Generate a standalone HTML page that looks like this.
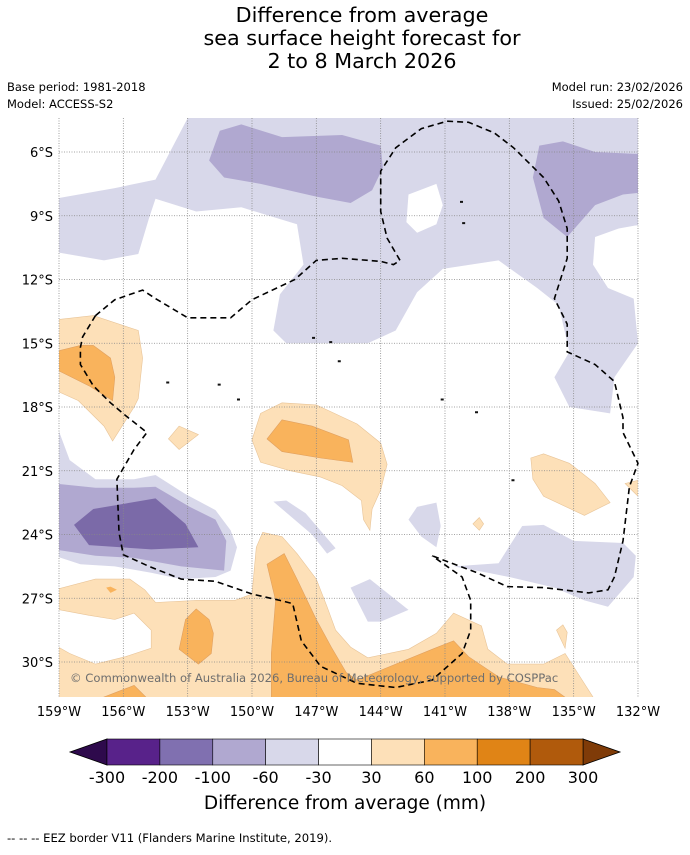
<!DOCTYPE html>
<html><head><meta charset="utf-8"><style>
body{margin:0;background:#fff;width:690px;height:850px;overflow:hidden;font-family:"Liberation Sans",sans-serif;}
svg text{font-family:"DejaVu Sans","Liberation Sans",sans-serif;}
</style></head><body>
<svg id="chart" width="690" height="850" xmlns="http://www.w3.org/2000/svg">
<text x="362" y="22" font-size="20.7" text-anchor="middle">Difference from average</text>
<text x="362" y="45" font-size="20.7" text-anchor="middle">sea surface height forecast for</text>
<text x="362" y="68" font-size="20.7" text-anchor="middle">2 to 8 March 2026</text>
<text x="7" y="91" font-size="11.5">Base period: 1981-2018</text>
<text x="7" y="108" font-size="11.5">Model: ACCESS-S2</text>
<text x="683" y="91" font-size="11.5" text-anchor="end">Model run: 23/02/2026</text>
<text x="683" y="108" font-size="11.5" text-anchor="end">Issued: 25/02/2026</text>
<defs><clipPath id="mapclip"><rect x="59" y="118" width="579" height="579"/></clipPath></defs>
<g id="map" clip-path="url(#mapclip)"><rect x="59" y="118" width="579" height="579" fill="#fff"/></g>
<g id="grid"></g>
<g id="eez"></g>
<text x="70" y="682" font-size="11.6" fill="#6e6e6e">© Commonwealth of Australia 2026, Bureau of Meteorology, supported by COSPPac</text>
<g id="axes"></g>
<g id="colorbar"></g>
<text x="345" y="809" font-size="18.5" text-anchor="middle">Difference from average (mm)</text>
<text x="7" y="842" font-size="11.6">--  --  -- EEZ border V11 (Flanders Marine Institute, 2019).</text>
</svg>
<script>
// axes
const lonTicks=[159,156,153,150,147,144,141,138,135,132];
const latTicks=[6,9,12,15,18,21,24,27,30];
// colorbar
const cbLevels=[-300,-200,-100,-60,-30,30,60,100,200,300];
const cbColors=["#58228a","#8070b0","#b0a8d0","#d8d8ea","#ffffff","#fde0b8","#f9b35c","#e08416","#b05a0c"];
const cbUnder="#2e0a4c", cbOver="#7f3b08";
// contour fills [lonW, latS]
const lavA=[[153,4.4],[131.8,4.4],[131.8,9.4],[132.9,9.6],[134,10],[134.1,11.3],[133.4,12.4],[132.2,12.9],[132,15],[133.1,16.6],[133.3,18.3],[135.2,18.0],[135.9,16.6],[135.2,15.4],[135.7,13.2],[136.7,12.4],[138.5,11.1],[141.1,11.5],[142.3,12.6],[143.3,14.4],[144.6,15],[148.4,15],[149,14.4],[148.7,12.7],[147.6,11.3],[147.9,9.4],[150.5,8.6],[152.6,8.8],[154.5,8.2],[154.8,9.1],[155.3,10.8],[156.9,11.1],[159.2,10.7],[159.2,8.2],[156.4,7.7],[154.5,7.3]];
const whiteHole=[[142.7,8.0],[141.4,7.5],[141.1,8.5],[141.4,9.4],[142.3,9.8],[142.8,9.3]];
const purA=[[151.5,5.0],[150.5,4.7],[148.6,5.3],[145.8,5.2],[144,5.7],[143.9,6.75],[144.4,7.8],[145.4,8.4],[147,8.1],[149.6,7.5],[151.3,7.2],[152,6.4]];
const purB=[[136.6,5.7],[135.5,5.5],[134,6.0],[131.8,6.1],[131.8,7.9],[132.7,8.0],[134,8.5],[135.3,10],[136.4,9.1],[136.9,7.2]];
const lavLeft=[[159.2,18.6],[158.5,20.5],[157.3,21.4],[155.5,21.4],[154.5,21.2],[153.1,22.1],[151.7,22.85],[151,23.8],[150.7,24.6],[151,25.7],[151.7,26],[153.3,26.1],[154.7,25.8],[156.4,25.5],[158,25.4],[159.2,25]];
const purLeft=[[159.2,21.6],[157.3,21.8],[155.5,21.8],[154.5,21.75],[152.9,22.7],[151.7,23.3],[151.2,24.3],[151.3,25.7],[153.3,25.5],[155.5,25.1],[157.3,25],[159.2,24.7]];
const darkLeft=[[158.3,23.55],[157.4,22.8],[154.5,22.3],[153.1,23.5],[152.5,24.6],[154.7,24.7],[157.6,24.5]];
const lavS1=[[149,22.45],[148.4,22.4],[147.5,23],[146.1,24.65],[146.5,24.9],[147.2,24]];
const lavS2=[[142.7,23.3],[142.3,22.7],[141.4,22.5],[141.2,23.6],[141.4,24.6],[142.1,24.1]];
const lavS3=[[145.4,26.5],[144.5,26.1],[142.7,27.55],[144,28.1],[144.6,28.1]];
const lavRight=[[140.6,25.5],[138.5,25.35],[137.4,23.6],[136.4,23.55],[135,24.3],[132.7,24.4],[132.1,25],[132.2,26],[133.4,27.4],[134.5,27.1],[135.9,26.5],[138,26],[139,25.8]];
const orLeftLt=[[159.2,13.9],[157.4,13.7],[155.3,14.4],[155.1,15.7],[155.3,17.6],[155.5,18],[156.5,19.6],[156.9,18.9],[158.1,17.7],[159.2,17.2]];
const orLeftMd=[[159.2,15.4],[158,15.1],[157.4,15.1],[156.6,15.7],[156.4,16.6],[156.5,17.7],[157.6,17],[159.2,16.2]];
const orDiamond=[[153.9,19.5],[153.4,18.9],[152.5,19.3],[153.4,20]];
const orCenLt=[[149.6,18.3],[148.6,17.8],[147,17.9],[145.1,18.8],[144,19.7],[143.7,20.7],[144,21.9],[144.4,22.8],[144.5,23.8],[144.8,23.3],[144.9,22.4],[145.8,21.7],[146.8,21.3],[148.2,21],[149.6,20.6],[150,19.55]];
const orCenMd=[[149.3,19.5],[148.6,18.6],[147.2,18.9],[145.5,19.55],[145.3,20.6],[146.8,20.4],[148.6,20.1]];
const orRight=[[137,20.4],[136.4,20.2],[135.2,20.65],[134,21.6],[133.3,22.5],[134.5,23.1],[136.4,22.2],[136.9,21.4]];
const orEdge=[[132.6,21.6],[131.8,21.4],[131.8,22.4]];
const orDot1=[[139.4,23.2],[139.2,23.5],[139.4,23.8],[139.7,23.5]];
const orDot2=[[135.8,28.5],[135.5,28.25],[135.3,28.6],[135.4,29.35]];
const orBotLt=[[159.2,26.6],[157.3,26.1],[155.7,26.1],[155,26.6],[154.5,27.2],[152.6,27.1],[150.8,27.1],[150,26.8],[149.8,24.6],[149.5,23.9],[148.6,24.1],[147.9,24.9],[147,26.1],[146.5,27.4],[146.1,28.5],[145.4,29.3],[144.6,29.8],[142.7,29.4],[141.4,28.65],[140.6,27.7],[139.3,28.3],[139,29.4],[138.1,30.1],[136.4,30.1],[135.4,29.6],[134.7,30.7],[134,31.8],[159.2,31.8]];
const whiteBL=[[159.2,27.5],[157.6,27.8],[156.4,28],[155.5,27.7],[154.7,28.5],[154.7,29.35],[155.9,29.75],[157.3,30.1],[158.5,29.6],[159.2,29.2]];
const orBotMd1=[[153.4,29.4],[153.1,28],[152.6,27.5],[152,28],[151.8,28.65],[151.9,29.6],[152.5,30.1]];
const orBotMd2=[[149.3,25.4],[148.5,24.9],[147.9,26.1],[147,28],[146.3,29.3],[145.6,30.5],[145.1,30.85],[143.3,30.1],[141.6,29.4],[140.6,29],[139.9,29.75],[138.5,30.7],[136.7,31.2],[135.9,31.3],[135.2,31.8],[149.1,31.8],[149.1,29.6],[148.9,27.1]];
const orBotMd3=[[157.3,31.8],[155.5,31.1],[154.8,31.8]];
const orDot3=[[156.8,26.5],[156.6,26.45],[156.3,26.6],[156.6,26.75]];
// EEZ lines
const eez1=[[157.3,13.7],[157.9,14.7],[158,15.2],[158,16],[157.4,17],[156.6,17.8],[155.9,18.4],[154.9,19.2],[155.5,20],[156.3,21.4],[156.2,23.9],[156,24.95],[154.8,25.5],[153.3,26.1],[151.7,26.2],[150,26.8],[148.7,27.1],[148.1,27.25],[147.7,29],[146.8,30.2],[145.1,31],[143.3,31.2],[141.6,30.85],[140.2,29.6],[139.8,28.5],[139.8,27.1],[140.2,26],[141.6,25]];
const eez2=[[157.3,13.7],[156.4,12.95],[155.1,12.5],[154.5,12.9],[153,13.8],[151,13.8],[150,12.95],[148,12],[147,11.1],[145.8,11],[144,11.15],[143.4,11.3],[143.1,11.1],[143.7,10.05],[144,8.8],[144,6.9],[143.3,5.8],[142.1,4.9],[140.9,4.55],[139.9,4.6],[138.7,5.1],[137.8,5.8],[136.4,7.2],[135.7,8.3],[135.3,9.6],[135.3,11],[135.9,12.9],[135.3,14.1],[135.3,15.4],[134,16],[133.1,16.8],[132.7,18.5],[132.7,19.2],[132,20.65],[132.4,21.75],[132.7,24.3],[133.1,26],[133.4,26.6],[134.3,26.75],[136.4,26.5],[138.1,26.45],[139.5,25.8],[141.6,25]];
const islands=[[150.7,17.6],[151.6,16.9],[147.2,14.7],[146.4,14.9],[140.3,8.3],[140.2,9.3],[141.2,17.6],[137.9,21.4],[139.6,18.2],[154,16.8],[146,15.8]];

const NS="http://www.w3.org/2000/svg";
const X0=59,X1=638,Y0=118,Y1=697;
function xOf(lon){return 59+(159-lon)*21.444;}
function yOf(lat){return 152+(lat-6)*21.25;}
function pts(a){return a.map(p=>xOf(p[0]).toFixed(1)+","+yOf(p[1]).toFixed(1)).join(" ");}
function mk(tag,attrs,parent){const e=document.createElementNS(NS,tag);for(const k in attrs)e.setAttribute(k,attrs[k]);parent.appendChild(e);return e;}
const map=document.getElementById('map');
function poly(arr,fill,name,stroke){const p=mk('polygon',{points:pts(arr),fill:fill,stroke:stroke||'none','stroke-width':0.6},map);

}
const LAV="#d8d8ea",PUR="#b0a8d0",DK="#7b6aa8",OL="#fde0b8",OM="#f9b35c";
poly(lavA,LAV,'contour-minus30-north');
poly(whiteHole,"#fff",'contour-hole');
poly(purA,PUR,'contour-minus60-north-a');
poly(purB,PUR,'contour-minus60-north-b');
poly(lavLeft,LAV,'contour-minus30-west');
poly(purLeft,PUR,'contour-minus60-west');
poly(darkLeft,DK,'contour-minus100-west');
poly(lavS1,LAV,'contour-minus30-small-a');
poly(lavS2,LAV,'contour-minus30-small-b');
poly(lavS3,LAV,'contour-minus30-small-c');
poly(lavRight,LAV,'contour-minus30-east');
poly(orBotLt,OL,'contour-plus30-south','#e8c498');
poly(whiteBL,"#fff",'contour-gap-southwest','#e8c498');
poly(orBotMd1,OM,'contour-plus60-south-a','#e0a060');
poly(orBotMd2,OM,'contour-plus60-south-b','#e0a060');
poly(orBotMd3,OM,'contour-plus60-south-c','#e0a060');
poly(orDot3,OM,'contour-plus60-dot');
poly(orLeftLt,OL,'contour-plus30-west','#e8c498');
poly(orLeftMd,OM,'contour-plus60-west','#e0a060');
poly(orDiamond,OL,'contour-plus30-diamond','#e8c498');
poly(orCenLt,OL,'contour-plus30-central','#e8c498');
poly(orCenMd,OM,'contour-plus60-central','#e0a060');
poly(orRight,OL,'contour-plus30-east','#e8c498');
poly(orEdge,OL,'contour-plus30-edge','#e8c498');
poly(orDot1,OL,'contour-plus30-dot-a','#e8c498');
poly(orDot2,OL,'contour-plus30-dot-b','#e8c498');
islands.forEach(p=>{const c=mk('rect',{x:xOf(p[0]),y:yOf(p[1]),width:3,height:2,fill:'#111'},map);

});
// grid
const grid=document.getElementById('grid');
lonTicks.forEach(l=>{const g=mk('line',{x1:xOf(l),x2:xOf(l),y1:Y0,y2:Y1,stroke:'#888','stroke-width':0.8,'stroke-dasharray':'1,1.5'},grid);

});
latTicks.forEach(l=>{const g=mk('line',{x1:X0,x2:X1,y1:yOf(l),y2:yOf(l),stroke:'#888','stroke-width':0.8,'stroke-dasharray':'1,1.5'},grid);

});
// eez
const eez=document.getElementById('eez');
[eez1,eez2].forEach(a=>{const e=mk('polyline',{points:pts(a),fill:'none',stroke:'#000','stroke-width':1.6,'stroke-dasharray':'6,4'},eez);

});
// axes labels
const axes=document.getElementById('axes');
lonTicks.forEach(l=>{const t=mk('text',{x:xOf(l),y:716,'font-size':13,'text-anchor':'middle'},axes);t.textContent=l+"°W";

});
latTicks.forEach(l=>{const t=mk('text',{x:53,y:yOf(l)+5,'font-size':13,'text-anchor':'end'},axes);t.textContent=l+"°S";

});
// colorbar
const cb=document.getElementById('colorbar');
const cbX0=107,cbX1=583,cbY=739,cbH=26,n=cbColors.length,w=(cbX1-cbX0)/n;
const tl=mk('polygon',{points:`${cbX0},${cbY} ${cbX0},${cbY+cbH} 70,${cbY+cbH/2}`,fill:cbUnder,stroke:'#000','stroke-width':0.8},cb);


const tr=mk('polygon',{points:`${cbX1},${cbY} ${cbX1},${cbY+cbH} 620,${cbY+cbH/2}`,fill:cbOver,stroke:'#000','stroke-width':0.8},cb);


cbColors.forEach((c,i)=>{const r=mk('rect',{x:cbX0+i*w,y:cbY,width:w,height:cbH,fill:c,stroke:'#000','stroke-width':0.6},cb);

});
cbLevels.forEach((v,i)=>{const t=mk('text',{x:cbX0+i*w,y:783,'font-size':16,'text-anchor':'middle'},cb);t.textContent=v;

});
</script>
</body></html>
